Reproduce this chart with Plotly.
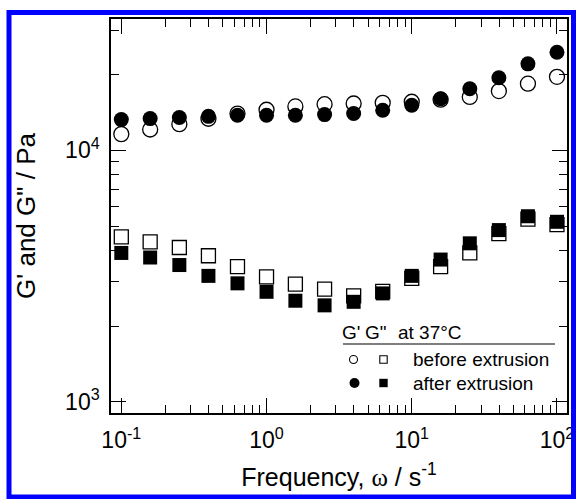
import plotly.graph_objects as go

# ---- data ----
freq = [0.1, 0.158, 0.251, 0.398, 0.631, 1.0, 1.58, 2.51, 3.98, 6.31,
        10.0, 15.8, 25.1, 39.8, 63.1, 100.0]
g1_before = [11600, 12100, 12700, 13350, 14000, 14500, 14950, 15250, 15350, 15450,
             15600, 15900, 16300, 17200, 18400, 19600]
g2_before = [4530, 4330, 4110, 3810, 3450, 3140, 2940, 2810, 2640, 2750,
             3100, 3450, 3910, 4670, 5330, 5070]
g1_after = [13250, 13370, 13500, 13650, 13780, 13780, 13780, 13870, 14000, 14430,
            15100, 16040, 17580, 19420, 22070, 24550]
g2_after = [3910, 3750, 3500, 3170, 2960, 2740, 2525, 2420, 2500, 2700,
            3170, 3680, 4270, 4820, 5470, 5200]

x_tickvals = [0.1, 1, 10, 100]
x_ticktext = ["10<sup>-1</sup>", "10<sup>0</sup>", "10<sup>1</sup>", "10<sup>2</sup>"]
x_minor_vals = [m * d for d in (0.1, 1, 10) for m in range(2, 10)]
y_tickvals = [1000, 10000]
y_ticktext = ["10<sup>3</sup>", "10<sup>4</sup>"]

FONT = "Liberation Sans, Arial, sans-serif"

fig = go.Figure()
fig.add_trace(go.Scatter(x=freq, y=g1_before, mode="markers", name="G' before",
                         marker=dict(symbol="circle", size=15, color="rgba(0,0,0,0)",
                                     line=dict(color="black", width=1.3))))
fig.add_trace(go.Scatter(x=freq, y=g2_before, mode="markers", name="G'' before",
                         marker=dict(symbol="square", size=14, color="rgba(0,0,0,0)",
                                     line=dict(color="black", width=1.3))))
fig.add_trace(go.Scatter(x=freq, y=g1_after, mode="markers", name="G' after",
                         marker=dict(symbol="circle", size=15, color="black",
                                     line=dict(width=0))))
fig.add_trace(go.Scatter(x=freq, y=g2_after, mode="markers", name="G'' after",
                         marker=dict(symbol="square", size=14, color="black",
                                     line=dict(width=0))))

axis_common = dict(
    showgrid=False, zeroline=False, showline=True, linecolor="black", linewidth=1.5,
    mirror="ticks", ticks="inside", ticklen=15, tickwidth=1.4, tickcolor="black",
    tickfont=dict(family=FONT, size=23, color="black"),
)
minor_common = dict(ticks="inside", ticklen=8, tickwidth=1.2, tickcolor="black",
                    showgrid=False)

fig.update_xaxes(type="log", range=[-1.071, 2.069], tickmode="array",
                 tickvals=x_tickvals, ticktext=x_ticktext, ticklabelstandoff=6,
                 minor=dict(tickmode="array", tickvals=x_minor_vals, **minor_common),
                 title=dict(text="Frequency, <span style=\"font-family:Liberation Serif\">ω</span> / s<sup>-1</sup>",
                            font=dict(family=FONT, size=25, color="black"), standoff=16),
                 **axis_common)
fig.update_yaxes(type="log", range=[2.956, 4.522], tickmode="array",
                 tickvals=y_tickvals, ticktext=y_ticktext, ticklabelstandoff=5,
                 minor=dict(dtick="D1", **minor_common),
                 title=dict(text="G' and G\" / Pa",
                            font=dict(family=FONT, size=26, color="black"), standoff=22),
                 **axis_common)

L, R, T, B = 111, 9, 19, 86
W, H = 576, 499
pw, ph = W - L - R, H - T - B


def px(xp):
    return (xp - L) / pw


def py(yp):
    return (H - B - yp) / ph


shapes = []
# blue frame around the figure
shapes.append(dict(type="rect", xref="paper", yref="paper",
                   x0=px(9), x1=px(573.5), y0=py(12.5), y1=py(497),
                   line=dict(color="#0000ff", width=5), layer="above"))
# legend rule
shapes.append(dict(type="line", xref="paper", yref="paper",
                   x0=px(343), x1=px(555), y0=py(344), y1=py(344),
                   line=dict(color="black", width=1.2)))


def circ(cx, cy, r, filled):
    return dict(type="circle", xref="paper", yref="paper",
                x0=px(cx - r), x1=px(cx + r), y0=py(cy + r), y1=py(cy - r),
                line=dict(color="black", width=1.1 if not filled else 0),
                fillcolor="black" if filled else "rgba(0,0,0,0)")


def sq(cx, cy, r, filled):
    return dict(type="rect", xref="paper", yref="paper",
                x0=px(cx - r), x1=px(cx + r), y0=py(cy + r), y1=py(cy - r),
                line=dict(color="black", width=1.1 if not filled else 0),
                fillcolor="black" if filled else "rgba(0,0,0,0)")


# legend markers
shapes += [circ(353.5, 359.5, 4, False), sq(383.5, 359.5, 3.7, False),
           circ(354.5, 383, 5, True), sq(383.5, 383, 4.2, True)]

ann_font = dict(family=FONT, size=19, color="black")
annotations = [
    dict(text="G'", x=px(351), y=py(332), xref="paper", yref="paper",
         showarrow=False, xanchor="center", yanchor="middle", font=ann_font),
    dict(text="G\"", x=px(376), y=py(332), xref="paper", yref="paper",
         showarrow=False, xanchor="center", yanchor="middle", font=ann_font),
    dict(text="at 37°C", x=px(396), y=py(332), xref="paper", yref="paper",
         showarrow=False, xanchor="left", yanchor="middle", font=ann_font),
    dict(text="before extrusion", x=px(411), y=py(359.5), xref="paper", yref="paper",
         showarrow=False, xanchor="left", yanchor="middle", font=ann_font),
    dict(text="after extrusion", x=px(411), y=py(383), xref="paper", yref="paper",
         showarrow=False, xanchor="left", yanchor="middle", font=ann_font),
]

fig.update_layout(
    width=W, height=H, margin=dict(l=L, r=R, t=T, b=B, autoexpand=False),
    paper_bgcolor="white", plot_bgcolor="white", showlegend=False,
    shapes=shapes, annotations=annotations,
    font=dict(family=FONT, color="black"),
)

fig.write_html("out.html")
